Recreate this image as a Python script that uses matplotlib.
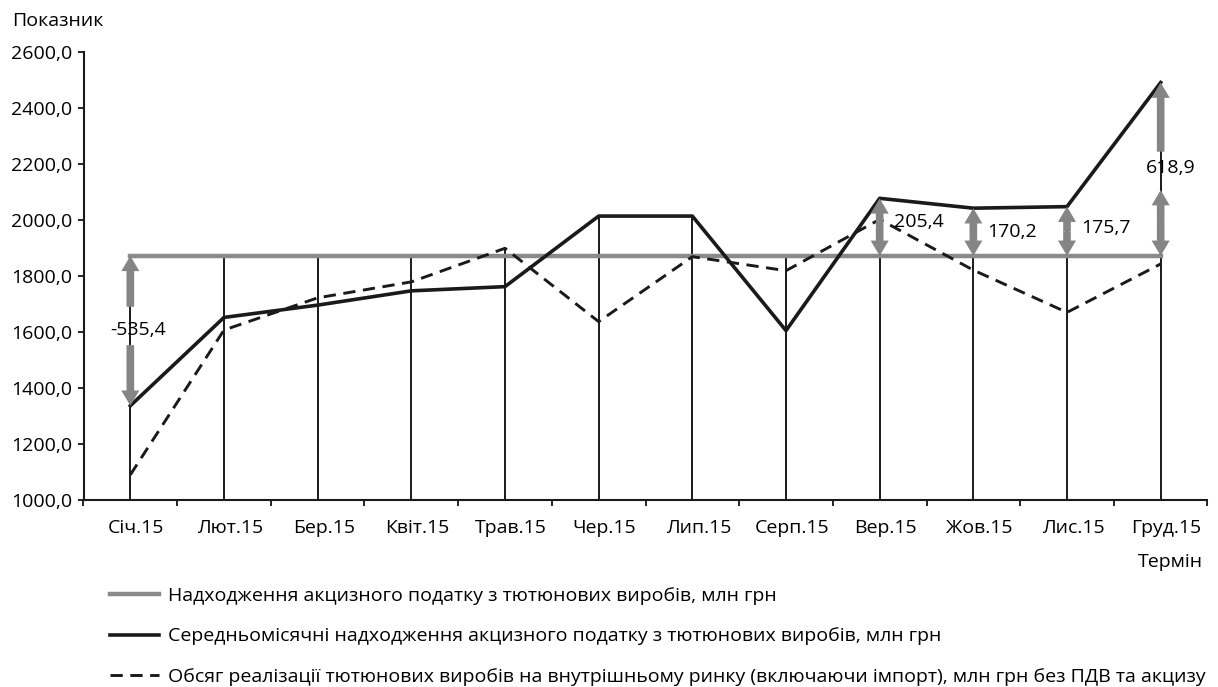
import numpy as np
import matplotlib
matplotlib.use("Agg")
import matplotlib.pyplot as plt
import matplotlib.transforms as mtransforms

plt.rcParams["font.family"] = ["Open Sans", "DejaVu Sans"]

# data
months = ["Січ.15", "Лют.15", "Бер.15", "Квіт.15", "Трав.15", "Чер.15",
          "Лип.15", "Серп.15", "Вер.15", "Жов.15", "Лис.15", "Груд.15"]
receipts_level = [1872.0] * 12
receipts_monthly = [1336.6, 1652.0, 1696.0, 1747.0, 1762.0, 2014.0,
                    2014.0, 1605.0, 2077.4, 2042.2, 2047.7, 2490.9]
sales_volume = [1090.0, 1607.0, 1722.0, 1779.0, 1899.0, 1637.0,
                1869.0, 1819.0, 2002.0, 1821.0, 1670.0, 1843.0]
gap_months = [0, 8, 9, 10, 11]
gap_values = [-535.4, 205.4, 170.2, 175.7, 618.9]

legend_labels = [
    "Надходження акцизного податку з тютюнових виробів, млн грн",
    "Середньомісячні надходження акцизного податку з тютюнових виробів, млн грн",
    "Обсяг реалізації тютюнових виробів на внутрішньому ринку (включаючи імпорт), млн грн без ПДВ та акцизу",
]

GRAY = "#8a8a8a"
ARROW = "#858585"
INK = "#1a1a1a"
FS = 14
W, H = 1218, 687

fig = plt.figure(figsize=(W / 100, H / 100), dpi=100)
ax = fig.add_axes([83.5 / W, 1 - 500 / H, 1124 / W, 448 / H])

x = np.arange(len(months))
top = np.maximum.reduce([receipts_level, receipts_monthly, sales_volume])
ax.vlines(x, 1000, top, color=INK, lw=1.4, zorder=1)

ax.plot(x, receipts_level, color=GRAY, lw=3.2, zorder=2, label=legend_labels[0])
ax.plot(x, receipts_monthly, color=INK, lw=2.6, zorder=3, label=legend_labels[1])
ax.plot(x, sales_volume, color=INK, lw=2.1, ls=(0, (4.2, 2.6)), zorder=3,
        label=legend_labels[2])


def arrow(xi, y_from, y_to):
    ax.annotate("", xy=(xi, y_to), xytext=(xi, y_from),
                arrowprops=dict(arrowstyle="simple,head_width=1.3,head_length=1.1,tail_width=0.55",
                                mutation_scale=10, fc=ARROW, ec="none",
                                shrinkA=0, shrinkB=0), zorder=4)


def fmt(v):
    return f"{v:.1f}".replace(".", ",")


level = receipts_level[0]
for m, g in zip(gap_months, gap_values):
    end = receipts_monthly[m]
    if m == 0:
        # arrow split around the label
        arrow(m, 1690, level)
        arrow(m, 1553, end)
        ax.text(m + 0.08, 1607, fmt(g), ha="center", va="center", fontsize=FS, zorder=5)
    elif m == 11:
        arrow(m, 2244, end)
        mid = (level + 2107) / 2
        arrow(m, mid, 2107)
        arrow(m, mid, level)
        ax.text(m + 0.105, 2185, fmt(g), ha="center", va="center", fontsize=FS, zorder=5)
    else:
        mid = (level + end) / 2
        arrow(m, mid, end)
        arrow(m, mid, level)
        ly = {8: 1992, 9: 1958, 10: 1972}[m]
        ax.text(m + 0.15, ly, fmt(g), ha="left", va="center", fontsize=FS, zorder=5)

ax.set_xlim(-0.5, len(months) - 0.5)
ax.set_ylim(1000, 2600)
ax.set_yticks(np.arange(1000, 2601, 200))
ax.set_yticklabels([fmt(v) for v in np.arange(1000, 2601, 200)], fontsize=FS)
ax.set_xticks(np.arange(-0.5, len(months), 1.0))
ax.set_xticklabels([])
ax.set_xticks(x, minor=True)
ax.set_xticklabels(months, minor=True, fontsize=FS)
ax.tick_params(axis="x", which="major", direction="out", length=4.3, width=1.2)
ax.tick_params(axis="x", which="minor", length=0, pad=14)
ax.tick_params(axis="y", direction="out", length=4.3, width=1.2, pad=4)
shift = mtransforms.ScaledTranslation(6 / 100, 0, fig.dpi_scale_trans)
for lab in ax.get_xticklabels(minor=True):
    lab.set_transform(lab.get_transform() + shift)

for s in ("top", "right"):
    ax.spines[s].set_visible(False)
for s in ("left", "bottom"):
    ax.spines[s].set_linewidth(1.5)
    ax.spines[s].set_color(INK)

fig.text(12 / W, 1 - 21 / H, "Показник", ha="left", va="center", fontsize=FS)
fig.text(1203 / W, 1 - 562 / H, "Термін", ha="right", va="center", fontsize=FS)

ax.legend(loc="upper left", bbox_to_anchor=(110 / W, 1 - 587 / H),
          bbox_transform=fig.transFigure, frameon=False, fontsize=FS,
          handlelength=2.5, handletextpad=0.5, labelspacing=1.15,
          borderpad=0, borderaxespad=0)

fig.savefig("out.png", dpi=100)
